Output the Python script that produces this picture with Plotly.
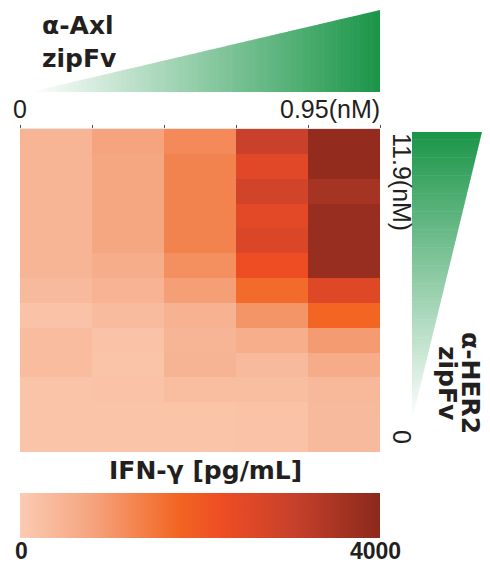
import plotly.graph_objects as go

# page body has an 8px margin, so the figure is drawn 8px smaller and shifted
OFF = 8
W, H = 490 - OFF, 565 - OFF

# ---- data ----
axl_idx = [1, 2, 3, 4, 5]                      # α-Axl zipFv dose steps (0 -> 0.95 nM)
her2_idx = list(range(13, 0, -1))              # α-HER2 zipFv dose steps, top row = 11.9 nM
ifng = [                                       # IFN-γ [pg/mL], rows top -> bottom
    [460, 800, 1190, 3000, 3870],
    [460, 740, 1300, 2530, 3860],
    [460, 740, 1300, 2830, 3560],
    [460, 740, 1300, 2470, 3800],
    [460, 740, 1300, 2670, 3800],
    [460, 615, 1120, 2240, 3800],
    [350, 490, 880, 1670, 2550],
    [185, 330, 510, 1030, 1760],
    [310, 185, 460, 600, 940],
    [310, 145, 470, 350, 640],
    [145, 165, 290, 290, 370],
    [145, 145, 145, 185, 350],
    [145, 145, 145, 185, 350],
]
zmin, zmax = 0, 4000
cbar_ticks = ["0", "4000"]
axl_labels = ["0", "0.95(nM)"]
her2_labels = ["11.9(nM)", "0"]

colorscale = [
    [0.0, "#FBCBB3"], [0.2, "#F5A47E"], [0.44, "#F26522"],
    [0.56, "#EE4D24"], [0.75, "#C9412B"], [1.0, "#8B291C"],
]

def px(x):
    return (x - OFF) / W

def py(y):
    return 1 - (y - OFF) / H

REG = "Arial, 'Liberation Sans', sans-serif"
BOLD = "'DejaVu Sans', sans-serif"

fig = go.Figure()
fig.add_trace(go.Heatmap(
    x=axl_idx, y=her2_idx, z=ifng, zmin=zmin, zmax=zmax,
    colorscale=colorscale, xgap=0, ygap=0,
    colorbar=dict(
        orientation="h", thickness=45, thicknessmode="pixels",
        len=360 / W, lenmode="fraction", x=px(200), xanchor="center",
        y=py(538), yanchor="bottom", xpad=0, ypad=0,
        outlinewidth=0, showticklabels=False, ticks="",
    ),
))

shapes = []
g = (0x1A, 0x95, 0x48)
n = 80
# top gradient triangle (α-Axl)
x0, x1, yb, yt = 30, 380, 92, 10
for i in range(n):
    a = x0 + (x1 - x0) * i / n
    b = min(x0 + (x1 - x0) * (i + 1) / n + 0.6, x1)
    ya = yb - (yb - yt) * (a - x0) / (x1 - x0)
    ybb = yb - (yb - yt) * (b - x0) / (x1 - x0)
    t = (i + 0.5) / n
    col = "rgb(%d,%d,%d)" % tuple(round(255 + (c - 255) * t) for c in g)
    shapes.append(dict(type="path", xref="paper", yref="paper",
                       path="M %f %f L %f %f L %f %f L %f %f Z" % (
                           px(a), py(yb), px(a), py(ya), px(b), py(ybb), px(b), py(yb)),
                       fillcolor=col, line=dict(width=0), layer="below"))
# right gradient triangle (α-HER2)
xl, xr, yt2, yb2 = 412, 482, 132, 420
for i in range(n):
    a = yt2 + (yb2 - yt2) * i / n
    b = min(yt2 + (yb2 - yt2) * (i + 1) / n + 0.6, yb2)
    xa = xr - (xr - xl) * (a - yt2) / (yb2 - yt2)
    xb = xr - (xr - xl) * (b - yt2) / (yb2 - yt2)
    t = 1 - (i + 0.5) / n
    col = "rgb(%d,%d,%d)" % tuple(round(255 + (c - 255) * t) for c in g)
    shapes.append(dict(type="path", xref="paper", yref="paper",
                       path="M %f %f L %f %f L %f %f L %f %f Z" % (
                           px(xl), py(a), px(xa), py(a), px(xb), py(b), px(xl), py(b)),
                       fillcolor=col, line=dict(width=0), layer="below"))

ann = []
def A(text, x, y, size, family, xanchor="center", yanchor="middle", angle=0,
      align="center", color="#231F20"):
    ann.append(dict(text=text, x=px(x), y=py(y), xref="paper", yref="paper",
                    xanchor=xanchor, yanchor=yanchor, textangle=angle, showarrow=False,
                    align=align, font=dict(size=size, family=family, color=color)))

A("<b>α-Axl<br>zipFv</b>", 40, 42, 25, BOLD, xanchor="left", align="left")
A(axl_labels[0], 11, 109, 25, REG, xanchor="left")
A(axl_labels[1], 382, 109, 25, REG, xanchor="right")
A(her2_labels[0], 402, 131, 25, REG, yanchor="top", angle=90)
A(her2_labels[1], 402, 437, 25, REG, angle=90)
A("<b>α-HER2</b>", 471, 383, 25, BOLD, angle=90)
A("<b>zipFv</b>", 448, 383, 25, BOLD, angle=90)
A("<b>IFN-γ [pg/mL]</b>", 205, 470, 25, BOLD)
A("<b>%s</b>" % cbar_ticks[0], 13, 551, 23, REG, xanchor="left")
A("<b>%s</b>" % cbar_ticks[1], 403, 551, 23, REG, xanchor="right")

fig.update_layout(
    width=W, height=H, margin=dict(l=0, r=0, t=0, b=0),
    paper_bgcolor="white", plot_bgcolor="white",
    shapes=shapes, annotations=ann,
    xaxis=dict(domain=[px(20), px(380)], side="top", range=[0.5, 5.5],
               tickvals=[0.5, 1.5, 2.5, 3.5, 4.5, 5.5], ticks="outside", ticklen=3,
               tickcolor="#555", showticklabels=False, showgrid=False, zeroline=False,
               showline=True, linecolor="#E6E6E6", linewidth=1),
    yaxis=dict(domain=[py(452), py(129)], range=[0.5, 13.5], showticklabels=False,
               showgrid=False, zeroline=False, ticks=""),
    showlegend=False,
)
fig.write_html("out.html")
